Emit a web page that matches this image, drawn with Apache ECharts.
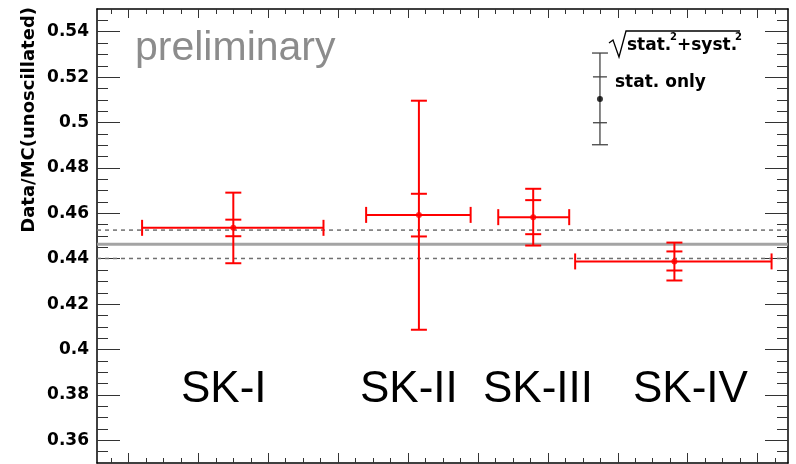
<!DOCTYPE html>
<html><head><meta charset="utf-8">
<script src="https://cdn.jsdelivr.net/npm/echarts@6/dist/echarts.min.js"></script>
<style>html,body{margin:0;padding:0;background:#fff}#c{width:796px;height:464px}</style>
</head><body><div id="c"></div>
<script>
// ---- data ----
const periods    = ['SK-I', 'SK-II', 'SK-III', 'SK-IV'];
const startYear  = [1996.39, 2002.80, 2006.58, 2008.78];
const endYear    = [2001.58, 2005.79, 2008.61, 2014.40];
const centerYear = [1999.00, 2004.31, 2007.58, 2011.62];
const ratio      = [0.4536, 0.4593, 0.4583, 0.4388];
const statLow    = [0.4499, 0.4498, 0.4508, 0.4348];
const statHigh   = [0.4572, 0.4686, 0.4658, 0.4432];
const totalLow   = [0.4380, 0.4087, 0.4458, 0.4304];
const totalHigh  = [0.4691, 0.5096, 0.4708, 0.4471];
const combined     = 0.4464;
const combinedLow  = 0.4401;
const combinedHigh = 0.4526;
const legendX = 2009.49, legendY = 0.5104;
const legendStat  = [0.4999, 0.5201];
const legendTotal = [0.4902, 0.5306];
const yTickLabels = [0.36, 0.38, 0.40, 0.42, 0.44, 0.46, 0.48, 0.50, 0.52, 0.54];
const xMajorTicks = [1996, 1998, 2000, 2002, 2004, 2006, 2008, 2010, 2012, 2014];
const X_MIN = 1995.1, X_MAX = 2014.87, Y_MIN = 0.35, Y_MAX = 0.55;

const xMinorTicks = [];
for (let v = 1995.5; v <= 2014.6; v += 0.5) xMinorTicks.push(Math.round(v * 10) / 10);
const yMinorTicks = [];
for (let k = 71; k <= 109; k++) yMinorTicks.push(Math.round(k * 5) / 1000);

const chart = echarts.init(document.getElementById('c'), null, {renderer: 'canvas'});

const tickColor = '#333';
function xAx(pos, custom, len, showLine) {
  return {
    type: 'value', min: X_MIN, max: X_MAX, position: pos,
    axisLine: {show: showLine, onZero: false, lineStyle: {color: '#000', width: 1.5}},
    axisTick: {show: true, inside: true, length: len, customValues: custom, lineStyle: {color: tickColor, width: 1}},
    axisLabel: {show: false}, splitLine: {show: false}
  };
}
function yAx(pos, custom, len, showLine, labels) {
  return {
    type: 'value', min: Y_MIN, max: Y_MAX, position: pos,
    axisLine: {show: showLine, onZero: false, lineStyle: {color: '#000', width: 1.5}},
    axisTick: {show: true, inside: true, length: len, customValues: custom, lineStyle: {color: tickColor, width: 1}},
    axisLabel: labels ? {show: true, customValues: yTickLabels, margin: 8,
      fontFamily: 'DejaVu Sans', fontWeight: 'bold', fontSize: 17, color: '#000',
      formatter: v => String(Math.round(v * 100) / 100)} : {show: false},
    splitLine: {show: false}
  };
}

function errItem(color, lw, withH, capT, capS) {
  return function (params, api) {
    const y = api.value(3);
    const c = api.coord([api.value(2), y]);
    const children = [];
    const L = (x1, y1, x2, y2) => children.push({type: 'line', shape: {x1, y1, x2, y2},
      style: {stroke: color, lineWidth: lw}});
    if (withH) {
      const a = api.coord([api.value(0), y]);
      const b = api.coord([api.value(1), y]);
      L(a[0], a[1], b[0], b[1]);
      L(a[0], a[1] - 8, a[0], a[1] + 8);
      L(b[0], b[1] - 8, b[0], b[1] + 8);
    }
    const tl = api.coord([api.value(2), api.value(6)]);
    const th = api.coord([api.value(2), api.value(7)]);
    const sl = api.coord([api.value(2), api.value(4)]);
    const sh = api.coord([api.value(2), api.value(5)]);
    L(c[0], tl[1], c[0], th[1]);
    L(c[0] - capT, tl[1], c[0] + capT, tl[1]);
    L(c[0] - capT, th[1], c[0] + capT, th[1]);
    L(c[0] - capS, sl[1], c[0] + capS, sl[1]);
    L(c[0] - capS, sh[1], c[0] + capS, sh[1]);
    return {type: 'group', children};
  };
}

const errData = periods.map((p, i) => [startYear[i], endYear[i], centerYear[i], ratio[i],
  statLow[i], statHigh[i], totalLow[i], totalHigh[i]]);
const legData = [[legendX, legendX, legendX, legendY, legendStat[0], legendStat[1], legendTotal[0], legendTotal[1]]];
// horizontal reference lines: [value, kind] (0 = solid combined, 1 = dashed band)
const hLineData = [[combined, 0], [combinedLow, 1], [combinedHigh, 1]];

function hLineItem(params, api) {
  const v = api.value(0);
  const a = api.coord([X_MIN, v]);
  const b = api.coord([X_MAX, v]);
  const solid = api.value(1) === 0;
  return {type: 'line', shape: {x1: a[0], y1: a[1], x2: b[0], y2: b[1]},
    style: solid ? {stroke: '#9a9a9a', lineWidth: 3, opacity: 0.9}
                 : {stroke: '#707070', lineWidth: 1.5, lineDash: [4, 4]}};
}

const option = {
  backgroundColor: '#fff',
  animation: false,
  grid: {left: 97, right: 8, top: 9, height: 454, containLabel: false},
  xAxis: [
    xAx('bottom', xMajorTicks, 10, true),
    xAx('bottom', xMinorTicks, 5, false),
    xAx('top', xMajorTicks, 9, true),
    xAx('top', xMinorTicks, 5, false)
  ],
  yAxis: [
    yAx('left', yTickLabels, 23, true, true),
    yAx('left', yMinorTicks, 11, false, false),
    yAx('right', yTickLabels, 23, true, false),
    yAx('right', yMinorTicks, 11, false, false)
  ],
  series: [
    {type: 'custom', z: 2, silent: true, renderItem: hLineItem,
      encode: {y: 0}, data: hLineData},
    {type: 'custom', z: 3, silent: true, renderItem: errItem('#ff0000', 2, true, 8, 8),
      encode: {x: [0, 1, 2], y: [3, 4, 5, 6, 7]}, data: errData},
    {type: 'scatter', z: 4, silent: true, symbol: 'circle', symbolSize: 6,
      itemStyle: {color: '#ff0000'}, data: periods.map((p, i) => [centerYear[i], ratio[i]])},
    {type: 'custom', z: 3, silent: true, renderItem: errItem('#444', 1.3, false, 8, 7),
      encode: {x: [0, 1, 2], y: [3, 4, 5, 6, 7]}, data: legData},
    {type: 'scatter', z: 4, silent: true, symbol: 'circle', symbolSize: 6,
      itemStyle: {color: '#000'}, data: [[legendX, legendY]]}
  ],
  graphic: [
    {type: 'text', x: 29, y: 7, rotation: Math.PI / 2,
      style: {text: 'Data/MC(unoscillated)', font: 'bold 18px "DejaVu Sans"', fill: '#000',
        align: 'right', verticalAlign: 'middle'}},
    {type: 'text', x: 135, y: 49,
      style: {text: 'preliminary', font: '41px "Liberation Sans"', fill: '#8c8c8c', align: 'left', verticalAlign: 'middle'}},
    {type: 'text', x: 181, y: 390, style: {text: periods[0], font: '44px "Liberation Sans"', fill: '#000', verticalAlign: 'middle'}},
    {type: 'text', x: 360, y: 390, style: {text: periods[1], font: '44px "Liberation Sans"', fill: '#000', verticalAlign: 'middle'}},
    {type: 'text', x: 483, y: 390, style: {text: periods[2], font: '44px "Liberation Sans"', fill: '#000', verticalAlign: 'middle'}},
    {type: 'text', x: 633, y: 390, style: {text: periods[3], font: '44px "Liberation Sans"', fill: '#000', verticalAlign: 'middle'}},
    {type: 'polyline', shape: {points: [[609, 43], [613, 40], [619, 57], [626, 31], [740, 31]]},
      style: {stroke: '#000', lineWidth: 1.3, fill: null}},
    {type: 'text', x: 627, y: 46, style: {text: 'stat.', font: 'bold 17px "DejaVu Sans"', fill: '#000', verticalAlign: 'middle'}},
    {type: 'text', x: 670, y: 37, style: {text: '2', font: 'bold 10px "DejaVu Sans"', fill: '#000', verticalAlign: 'middle'}},
    {type: 'text', x: 677, y: 46, style: {text: '+syst.', font: 'bold 17px "DejaVu Sans"', fill: '#000', verticalAlign: 'middle'}},
    {type: 'text', x: 735, y: 37, style: {text: '2', font: 'bold 10px "DejaVu Sans"', fill: '#000', verticalAlign: 'middle'}},
    {type: 'text', x: 615, y: 83, style: {text: 'stat. only', font: 'bold 17px "DejaVu Sans"', fill: '#000', verticalAlign: 'middle'}}
  ]
};
chart.setOption(option);
</script>
</body></html>
